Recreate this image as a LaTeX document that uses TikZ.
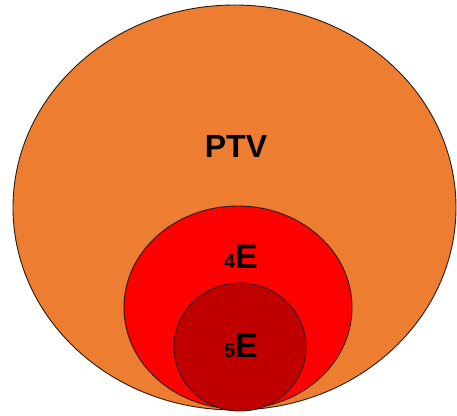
\documentclass[tikz,border=0pt]{standalone}
\usepackage{fontspec}
\setmainfont{Liberation Sans}
\definecolor{ptvorange}{HTML}{ED7D31}
\definecolor{fourred}{HTML}{FF0000}
\definecolor{fivered}{HTML}{C00000}
\definecolor{edge}{HTML}{2A1A10}
\begin{document}
\begin{tikzpicture}[x=1pt,y=-1pt,
  zone/.style={draw=edge,line width=0.9pt},
  lbl/.style={inner sep=0pt,font=\bfseries,anchor=base}]
\useasboundingbox (0,0) rectangle (457,415);
\fill[white] (0,0) rectangle (457,415);
\draw[zone,fill=ptvorange] (234.5,207.5) ellipse [x radius=221.5, y radius=202.5];
\draw[zone,fill=fourred] (238,307.5) ellipse [x radius=114, y radius=101.5];
\draw[zone,fill=fivered] (240,347) ellipse [x radius=66, y radius=64];
\node[lbl,font=\bfseries\fontsize{32}{32}\selectfont] (ptv) at (236,157) {PTV};
\node[lbl] (fourE) at (241,268) {\fontsize{20}{20}\selectfont 4\fontsize{34}{34}\selectfont E};
\node[lbl] (fiveE) at (241,357) {\fontsize{20}{20}\selectfont 5\fontsize{34}{34}\selectfont E};
\end{tikzpicture}
\end{document}
